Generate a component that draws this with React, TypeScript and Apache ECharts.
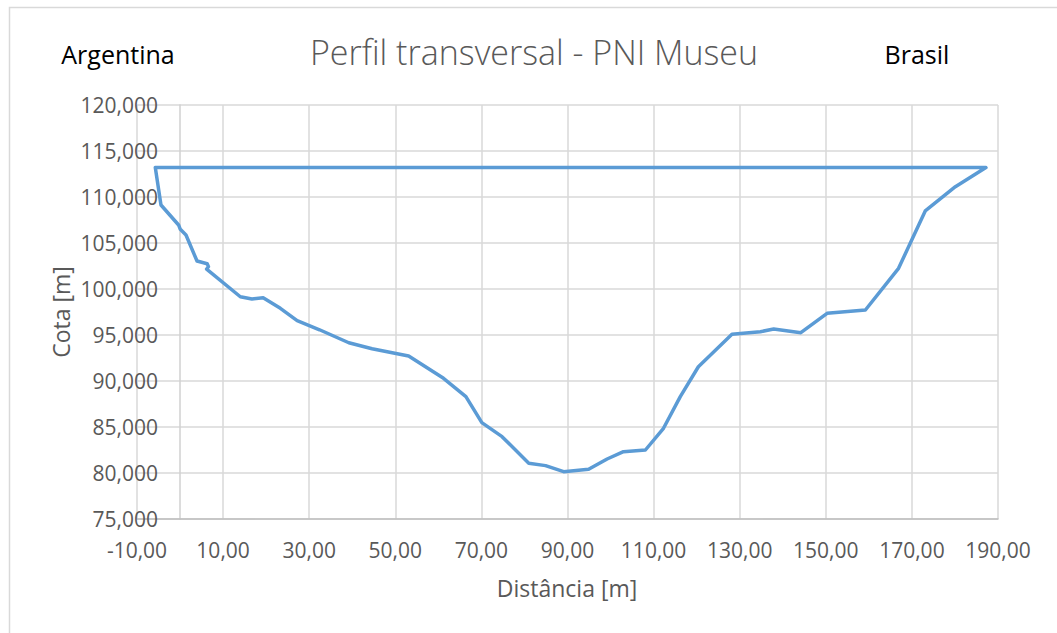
import React, { useEffect, useRef } from "react";
import * as echarts from "echarts";

// Cross-section profile (distance in m, elevation in m), closed by the water line
const distance = [
  -5.75, -4.43, -0.34, 0.06, 1.38, 3.94, 6.3, 6.6, 6.17, 14.0, 16.7, 19.3, 23.3, 27.2,
  32.4, 39.2, 44.6, 53.1, 61.2, 66.4, 70.1, 74.8, 81.0, 84.9, 89.1, 94.9, 99.2, 103.0,
  108.1, 112.3, 116.2, 120.4, 128.2, 134.8, 137.9, 144.2, 150.3, 159.2, 166.9, 173.1,
  180.1, 187.2, -5.75,
];
const elevation = [
  113.2, 109.13, 106.96, 106.49, 105.87, 103.04, 102.75, 102.42, 102.17, 99.16, 98.91,
  99.05, 97.9, 96.56, 95.57, 94.16, 93.51, 92.72, 90.29, 88.3, 85.47, 83.95, 81.05,
  80.8, 80.14, 80.4, 81.52, 82.32, 82.5, 84.86, 88.3, 91.55, 95.07, 95.36, 95.65,
  95.25, 97.36, 97.72, 102.25, 108.48, 111.12, 113.2, 113.2,
];

const chartTitle = "Perfil transversal - PNI Museu";
const leftLabel = "Argentina";
const rightLabel = "Brasil";
const xName = "Distância [m]";
const yName = "Cota [m]";

export default function App() {
  const ref = useRef<HTMLDivElement>(null);
  useEffect(() => {
    if (!ref.current) return;
    const chart = echarts.init(ref.current, null, { renderer: "svg" });
    const font = "'Open Sans', 'Noto Sans', sans-serif";
    const gray = "#595959";
    chart.setOption({
      animation: false,
      backgroundColor: "#ffffff",
      textStyle: { fontFamily: font },
      grid: { left: 137, top: 105, right: 59, bottom: 114, containLabel: false },
      xAxis: {
        type: "value",
        min: -10,
        max: 190,
        interval: 20,
        axisLine: { show: true, onZero: false, lineStyle: { color: "#BFBFBF", width: 1.5 } },
        axisTick: { show: false },
        splitLine: { show: true, lineStyle: { color: "#D9D9D9", width: 1.5 } },
        axisLabel: {
          color: gray,
          fontFamily: font,
          fontSize: 21,
          margin: 20,
          formatter: (v: number) => v.toFixed(2).replace(".", ","),
        },
      },
      yAxis: {
        type: "value",
        min: 75,
        max: 120,
        interval: 5,
        offset: -43,
        axisLine: { show: true, onZero: false, lineStyle: { color: "#D0D0D0", width: 1.5 } },
        axisTick: { show: false },
        splitLine: { show: true, lineStyle: { color: "#D9D9D9", width: 1.5 } },
        axisLabel: {
          color: gray,
          fontFamily: font,
          fontSize: 21,
          margin: 22,
          formatter: (v: number) => v.toFixed(3).replace(".", ","),
        },
      },
      series: [
        {
          type: "line",
          data: distance.map((d, i) => [d, elevation[i]]),
          showSymbol: false,
          symbol: "none",
          lineStyle: { color: "#5B9BD5", width: 3.5, join: "round", cap: "round" },
        },
      ],
      graphic: [
        {
          type: "rect",
          shape: { x: 9.5, y: 7.5, width: 1200, height: 800 },
          style: { fill: "none", stroke: "#D9D9D9", lineWidth: 1.5 },
          silent: true,
        },
        {
          type: "text",
          x: 534,
          y: 52,
          style: {
            text: chartTitle,
            fill: gray,
            font: `300 34px ${font}`,
            align: "center",
            verticalAlign: "middle",
          },
        },
        {
          type: "text",
          x: 118,
          y: 54,
          style: {
            text: leftLabel,
            fill: "#000000",
            font: `25px ${font}`,
            align: "center",
            verticalAlign: "middle",
          },
        },
        {
          type: "text",
          x: 917,
          y: 54,
          style: {
            text: rightLabel,
            fill: "#000000",
            font: `25px ${font}`,
            align: "center",
            verticalAlign: "middle",
          },
        },
        {
          type: "text",
          x: 567,
          y: 588,
          style: {
            text: xName,
            fill: gray,
            font: `23px ${font}`,
            align: "center",
            verticalAlign: "middle",
          },
        },
        {
          type: "text",
          x: 61,
          y: 312,
          rotation: Math.PI / 2,
          style: {
            text: yName,
            fill: gray,
            font: `23px ${font}`,
            align: "center",
            verticalAlign: "middle",
          },
        },
      ],
    });
    return () => chart.dispose();
  }, []);
  return (
    <div
      ref={ref}
      style={{ position: "fixed", left: 0, top: 0, width: 1057, height: 633 }}
    />
  );
}
